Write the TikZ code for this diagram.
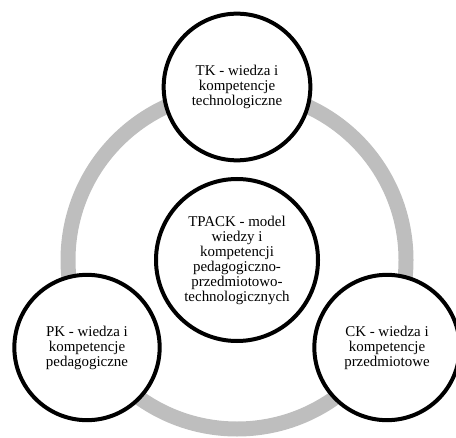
\documentclass[tikz,border=0pt]{standalone}
\usepackage{fontspec}
\setmainfont{Liberation Serif}
\usetikzlibrary{shadows}
\definecolor{ringgray}{RGB}{190,190,190}
\tikzset{
  ring/.style={draw=ringgray, line width=11.25pt},
  knowledge/.style={circle, draw=black, line width=3pt, fill=white, align=center,
    inner sep=0pt, minimum size=109pt, font=\fontsize{11.2}{11.25}\selectfont,
    drop shadow={shadow xshift=0.6pt, shadow yshift=-1.4pt, opacity=0.25}},
}
\begin{document}
\begin{tikzpicture}[x=0.75pt, y=-0.75pt]
  \useasboundingbox (0,0) rectangle (456,438);
  \coordinate (hub) at (237,260);
  % grey ring behind the circles
  \draw[ring] (hub) circle[radius=169];
  \node[knowledge, minimum size=110pt] (tk) at (237,87) {TK - wiedza i\\kompetencje\\technologiczne};
  \node[knowledge] (pk) at (87,347.5) {PK - wiedza i\\kompetencje\\pedagogiczne};
  \node[knowledge] (ck) at (387,347.5) {CK - wiedza i\\kompetencje\\przedmiotowe};
  \node[knowledge, minimum size=121.5pt] (tpack) at (hub)
    {TPACK - model\\wiedzy i\\kompetencji\\pedagogiczno-\\przedmiotowo-\\technologicznych};
\end{tikzpicture}
\end{document}
